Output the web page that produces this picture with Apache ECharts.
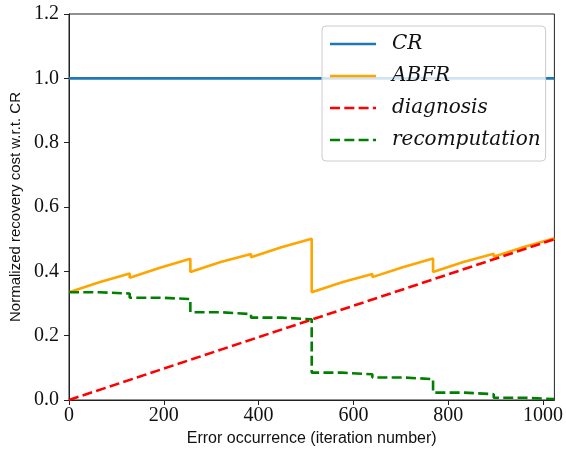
<!DOCTYPE html>
<html>
<head>
<meta charset="utf-8">
<script src="https://cdn.jsdelivr.net/npm/echarts@6/dist/echarts.min.js"></script>
<style>html,body{margin:0;padding:0;background:#fff}#c{width:566px;height:452px}</style>
</head>
<body>
<div id="c"></div>
<script>
// iteration breakpoints (error occurrence)
const iterBreaks = [0,64,128,192,256,320,384,448,512,576,640,704,768,832,896,960,1024];
// recomputation cost in each 64-iteration block
const recompValues = [0.335,0.331,0.318,0.314,0.273,0.267,0.256,0.251,0.085,0.080,0.070,0.065,0.023,0.018,0.007,0.003];
// ABFR cost at start and end of each block
const abfrStart = [0.335,0.362,0.380,0.408,0.398,0.423,0.444,0.470,0.335,0.361,0.382,0.409,0.398,0.424,0.445,0.472];
const abfrEnd   = [0.366,0.393,0.411,0.439,0.429,0.454,0.475,0.501,0.366,0.392,0.413,0.440,0.429,0.455,0.476,0.503];
// CR and diagnosis endpoints
const crX = [0,1024], crY = [1.0,1.0];
const diagX = [0,1024], diagY = [0.0,0.5];
const xTicks = [0,200,400,600,800,1000];
const yTicks = [0.0,0.2,0.4,0.6,0.8,1.0,1.2];

const abfrData = [], recompData = [];
for (let i = 0; i < recompValues.length; i++) {
  abfrData.push([iterBreaks[i], abfrStart[i]], [iterBreaks[i+1], abfrEnd[i]]);
  recompData.push([iterBreaks[i], recompValues[i]], [iterBreaks[i+1], recompValues[i]]);
}
const crData = crX.map((x,i)=>[x,crY[i]]);
const diagData = diagX.map((x,i)=>[x,diagY[i]]);

const LW = 2.6, DASH = [10, 4.3];
const solidIcon = 'path://M0,0H46V2.6H0Z';
const dashIcon = 'path://M0,0H10V2.6H0Z M14.3,0H24.3V2.6H14.3Z M28.6,0H38.6V2.6H28.6Z M42.9,0H46V2.6H42.9Z';
const serif = 'Liberation Serif';
const chart = echarts.init(document.getElementById('c'), null, {renderer:'canvas'});
chart.setOption({
  animation:false,
  backgroundColor:'#fff',
  grid:{left:68,right:10,top:14,bottom:52,show:true,borderColor:'#222',borderWidth:1,containLabel:false},
  xAxis:{type:'value',min:xTicks[0],max:1024,interval:200,
    name:'Error occurrence (iteration number)',nameLocation:'middle',nameGap:31,
    nameTextStyle:{fontFamily:'Liberation Sans',fontSize:16,color:'#111'},
    axisLine:{lineStyle:{color:'#222',width:1}},
    axisTick:{show:true,inside:false,length:5,lineStyle:{color:'#222'}},
    axisLabel:{margin:6,fontFamily:serif,fontSize:20,color:'#111',showMaxLabel:false,
      formatter:v=> xTicks.indexOf(v)>=0 ? String(v) : ''},
    splitLine:{show:false}},
  yAxis:{type:'value',min:yTicks[0],max:yTicks[yTicks.length-1],interval:0.2,
    name:'Normalized recovery cost w.r.t. CR',nameLocation:'middle',nameGap:46,
    nameTextStyle:{fontFamily:'Liberation Sans',fontSize:15,color:'#111'},
    axisLine:{lineStyle:{color:'#222',width:1}},
    axisTick:{show:true,inside:false,length:5,lineStyle:{color:'#222'}},
    axisLabel:{margin:10,fontFamily:serif,fontSize:20,color:'#111',formatter:v=>v.toFixed(1)},
    splitLine:{show:false}},
  legend:{orient:'vertical',left:322,top:26,z:10,
    backgroundColor:'rgba(255,255,255,0.8)',borderColor:'#cccccc',borderWidth:1,borderRadius:4,
    padding:[8,5,11,8],itemWidth:46,itemHeight:2.6,itemGap:12,
    textStyle:{fontFamily:'DejaVu Serif',fontStyle:'italic',fontSize:20,color:'#111',lineHeight:20,padding:[0,0,0,11]},
    data:[{name:'CR',icon:solidIcon},{name:'ABFR',icon:solidIcon},{name:'diagnosis',icon:dashIcon},{name:'recomputation',icon:dashIcon}]},
  series:[
    {name:'CR',type:'line',data:crData,showSymbol:false,color:'#1f77b4',lineStyle:{width:LW,color:'#1f77b4'}},
    {name:'ABFR',type:'line',data:abfrData,showSymbol:false,color:'#ffa500',lineStyle:{width:LW,color:'#ffa500'}},
    {name:'diagnosis',type:'line',data:diagData,showSymbol:false,color:'#ff0000',lineStyle:{width:LW,color:'#ff0000',type:DASH}},
    {name:'recomputation',type:'line',data:recompData,showSymbol:false,color:'#008000',lineStyle:{width:LW,color:'#008000',type:DASH}}
  ]
});
</script>
</body>
</html>
